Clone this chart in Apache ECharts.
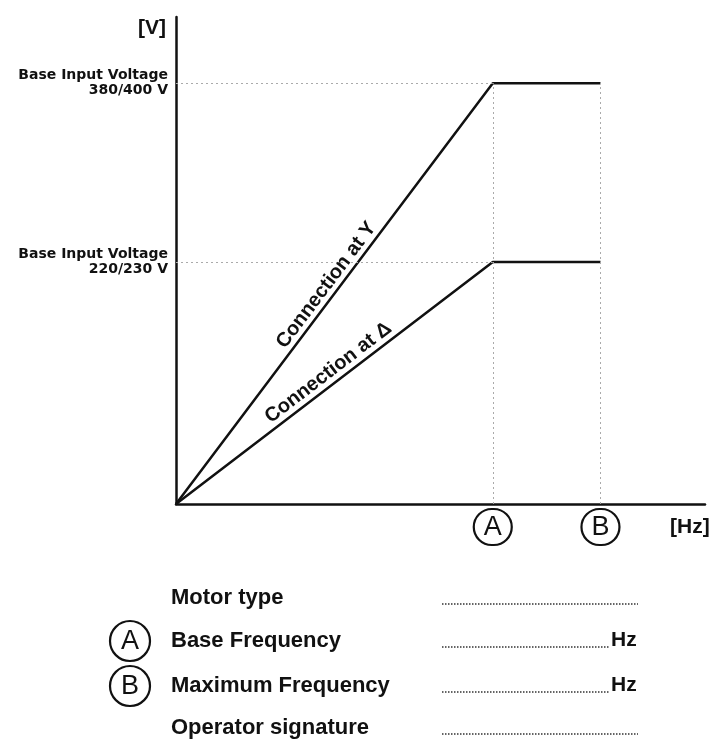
<!DOCTYPE html>
<html>
<head>
<meta charset="utf-8">
<script src="https://cdn.jsdelivr.net/npm/echarts@6/dist/echarts.min.js"></script>
<style>
  html, body { margin: 0; padding: 0; background: #fff; }
  #chart { width: 719px; height: 739px; }
</style>
</head>
<body>
<div id="chart"></div>
<script>
// frequency points: origin, A (base), B (maximum)
const freqPoints = [0, 50, 67];
const voltsY = [0, 400, 400];
const voltsDelta = [0, 230, 230];
const seriesNames = ["Connection at Y", "Connection at \u0394"];
const levelValues = [400, 230];
const levelLabels = ["Base Input Voltage\n380/400 V", "Base Input Voltage\n220/230 V"];
const freqMarks = ["A", "B"];
const tableLabels = ["Motor type", "Base Frequency", "Maximum Frequency", "Operator signature"];
const tableMarks = ["", "A", "B", ""];
const tableUnits = ["", "Hz", "Hz", ""];

const font = "Liberation Sans, Arial, sans-serif";
const chart = echarts.init(document.getElementById("chart"));

function pairs(ys) {
  return freqPoints.map((x, i) => [x, ys[i]]);
}

function connLabel(name, ys) {
  return {
    symbol: "circle",
    symbolSize: 1,
    itemStyle: { color: "rgba(0,0,0,0)" },
    label: {
      show: true,
      position: "top",
      distance: 2,
      formatter: name,
      fontFamily: font,
      fontWeight: "bold",
      fontSize: 20,
      color: "#111",
      rotate: 0,
    },
    data: [{ coord: [freqPoints[1] / 2, ys[1] / 2] }],
  };
}

const guideStyle = { color: "#aaa", type: [2, 3], width: 1 };
const guides = [];
levelValues.forEach(v => {
  guides.push([{ coord: [0, v] }, { coord: [freqPoints[1], v] }]);
});
guides.push([{ coord: [freqPoints[1], 0] }, { coord: [freqPoints[1], voltsY[1]] }]);
guides.push([{ coord: [freqPoints[2], 0] }, { coord: [freqPoints[2], voltsY[2]] }]);

// table below the chart
const rowY = [598, 641, 686, 728];
const graphics = [];
tableLabels.forEach((t, i) => {
  graphics.push({
    type: "text", x: 171, y: rowY[i],
    style: { text: t, font: "bold 22px " + font, fill: "#111", verticalAlign: "middle" },
  });
  if (tableMarks[i]) {
    graphics.push({
      type: "circle", shape: { cx: 130, cy: rowY[i], r: 20 },
      style: { fill: "none", stroke: "#111", lineWidth: 2.2 },
    });
    graphics.push({
      type: "text", x: 130, y: rowY[i] + 1,
      style: { text: tableMarks[i], font: "27px " + font, fill: "#111", align: "center", verticalAlign: "middle" },
    });
  }
  const endX = tableUnits[i] ? 610 : 638;
  graphics.push({
    type: "line", shape: { x1: 442, y1: rowY[i] + 6, x2: endX, y2: rowY[i] + 6 },
    style: { stroke: "#333", lineWidth: 1.3, lineDash: [1.5, 1.5] },
  });
  if (tableUnits[i]) {
    graphics.push({
      type: "text", x: 611, y: rowY[i] - 1,
      style: { text: tableUnits[i], font: "bold 21px " + font, fill: "#111", verticalAlign: "middle" },
    });
  }
});

const option = {
  animation: false,
  backgroundColor: "#fff",
  grid: { left: 176, right: 14, top: 17, bottom: 235 },
  xAxis: {
    type: "value",
    min: 0,
    max: 83.5,
    name: "[Hz]",
    nameLocation: "end",
    nameGap: -35,
    nameTextStyle: {
      fontFamily: font, fontWeight: "bold", fontSize: 21, color: "#111",
      align: "left", verticalAlign: "top", padding: [13, 0, 0, 0],
    },
    axisLine: { lineStyle: { color: "#111", width: 2.5 } },
    axisTick: { show: false },
    splitLine: { show: false },
    axisLabel: {
      customValues: freqPoints.slice(1),
      margin: 5,
      formatter: v => "{c|" + freqMarks[freqPoints.indexOf(v) - 1] + "}",
      rich: {
        c: {
          width: 34, height: 34, lineHeight: 36, align: "center",
          borderColor: "#111", borderWidth: 2.2, borderRadius: 20,
          fontFamily: font, fontSize: 27, color: "#111",
          padding: [2, 2, 0, 2],
        },
      },
    },
  },
  yAxis: {
    type: "value",
    min: 0,
    max: 463,
    name: "[V]",
    nameLocation: "end",
    nameGap: -1,
    nameTextStyle: {
      fontFamily: font, fontWeight: "bold", fontSize: 21, color: "#111",
      align: "right", verticalAlign: "top", padding: [0, 10, 0, 0],
    },
    axisLine: { show: true, lineStyle: { color: "#111", width: 2.5 } },
    axisTick: { show: false },
    splitLine: { show: false },
    axisLabel: {
      customValues: levelValues,
      margin: 8,
      align: "right",
      lineHeight: 15,
      fontFamily: "DejaVu Sans, sans-serif",
      fontWeight: "bold",
      fontSize: 14,
      color: "#111",
      formatter: v => levelLabels[levelValues.indexOf(v)],
    },
  },
  graphic: graphics,
  series: [
    {
      name: seriesNames[0],
      type: "line",
      data: pairs(voltsY),
      showSymbol: false,
      lineStyle: { color: "#111", width: 2.5 },
      markPoint: connLabel(seriesNames[0], voltsY),
      markLine: {
        silent: true, symbol: "none", label: { show: false },
        lineStyle: guideStyle, data: guides,
      },
    },
    {
      name: seriesNames[1],
      type: "line",
      data: pairs(voltsDelta),
      showSymbol: false,
      lineStyle: { color: "#111", width: 2.5 },
      markPoint: connLabel(seriesNames[1], voltsDelta),
    },
  ],
};

chart.setOption(option);

// rotate the connection labels to follow their lines
function slope(ys) {
  const p0 = chart.convertToPixel({ seriesIndex: 0 }, [freqPoints[0], ys[0]]);
  const p1 = chart.convertToPixel({ seriesIndex: 0 }, [freqPoints[1], ys[1]]);
  return Math.atan2(p0[1] - p1[1], p1[0] - p0[0]) * 180 / Math.PI;
}
chart.setOption({
  series: [
    { markPoint: { label: { rotate: slope(voltsY) } } },
    { markPoint: { label: { rotate: slope(voltsDelta) } } },
  ],
});
</script>
</body>
</html>
